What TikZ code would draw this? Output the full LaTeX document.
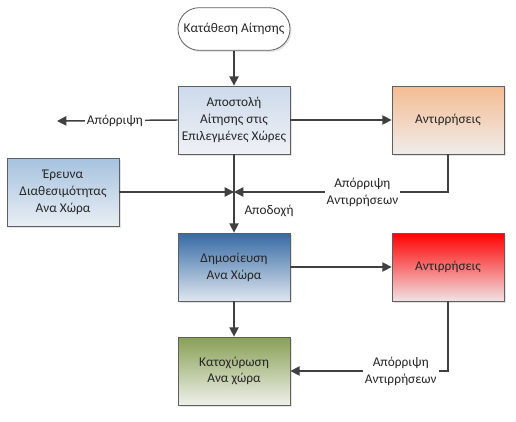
\documentclass[tikz,border=0pt]{standalone}
\usepackage{fontspec}
\setmainfont{Carlito}
\usetikzlibrary{calc, positioning}
\usetikzlibrary{arrows.meta}
\usetikzlibrary{shadows}

\definecolor{lineGrey}{HTML}{404040}
\definecolor{edgeGrey}{HTML}{5F5F5F}
\definecolor{txtGrey}{HTML}{262626}

\tikzset{
  flowbox/.style={draw=edgeGrey, line width=0.6pt, rectangle, align=center,
    minimum width=84pt, minimum height=51pt, inner sep=1pt, text=txtGrey,
    font=\fontsize{10}{12.6}\selectfont,
    drop shadow={opacity=0.22, shadow xshift=1.2pt, shadow yshift=-1.2pt}},
  startbox/.style={flowbox, rounded corners=16pt, minimum height=32pt,
    top color=white, bottom color=white},
  flowline/.style={draw=lineGrey, line width=1.1pt},
  flowarrow/.style={flowline, -{Triangle[length=7pt, width=7pt]}},
  linelabel/.style={fill=white, inner sep=1.5pt, align=center, text=txtGrey,
    font=\fontsize{10}{12.6}\selectfont}
}

\begin{document}
\begin{tikzpicture}[x=0.75pt, y=-0.75pt]
\useasboundingbox (0,0) rectangle (516,421);

% main column
\node[startbox] (start) at (234,29) {Κατάθεση Αίτησης};
\node[flowbox, top color={rgb,255:red,205;green,218;blue,234}, bottom color={rgb,255:red,238;green,241;blue,246}]
  (apost) at (234,120) {Αποστολή\\Αίτησης στις\\Επιλεγμένες Χώρες};
\node[flowbox, top color={rgb,255:red,54;green,106;blue,164}, bottom color={rgb,255:red,222;green,230;blue,239}]
  (dimos) at (234,267) {Δημοσίευση\\Ανα Χώρα};
\node[flowbox, top color={rgb,255:red,136;green,160;blue,84}, bottom color={rgb,255:red,238;green,240;blue,234}]
  (katox) at (234,371) {Κατοχύρωση\\Ανα χώρα};

% side boxes
\node[flowbox, top color={rgb,255:red,166;green,194;blue,222}, bottom color={rgb,255:red,232;green,238;blue,244}]
  (erevna) at (63,192) {Έρευνα\\Διαθεσιμότητας\\Ανα Χώρα};
\node[flowbox, top color={rgb,255:red,244;green,188;blue,146}, bottom color={rgb,255:red,240;green,236;blue,234}]
  (antir1) at (448,120) {Αντιρρήσεις};
\node[flowbox, top color={rgb,255:red,255;green,0;blue,0}, bottom color={rgb,255:red,240;green,226;blue,228}]
  (antir2) at (448,267) {Αντιρρήσεις};

\coordinate (rej) at (57,121);
\coordinate (J) at (234,192);

% connectors
\draw[flowarrow] (start) -- (apost);
\draw[flowarrow] (apost.west) -- (rej) node[linelabel, pos=0.52] {Απόρριψη};
\draw[flowarrow] (apost.east) -- (antir1.west);
\draw[flowarrow] (apost) -- (dimos) node[pos=0.72, right=4pt, text=txtGrey, font=\fontsize{10}{12.6}\selectfont] {Αποδοχή};
\draw[flowarrow] (erevna.east) -- (J);
\draw[flowarrow] (antir1.south) |- (J) node[linelabel, pos=0.70] {Απόρριψη\\Αντιρρήσεων};
\draw[flowarrow] (dimos.east) -- (antir2.west);
\draw[flowarrow] (dimos) -- (katox);
\draw[flowarrow] (antir2.south) |- (katox.east) node[linelabel, pos=0.65] {Απόρριψη\\Αντιρρήσεων};
\end{tikzpicture}
\end{document}
